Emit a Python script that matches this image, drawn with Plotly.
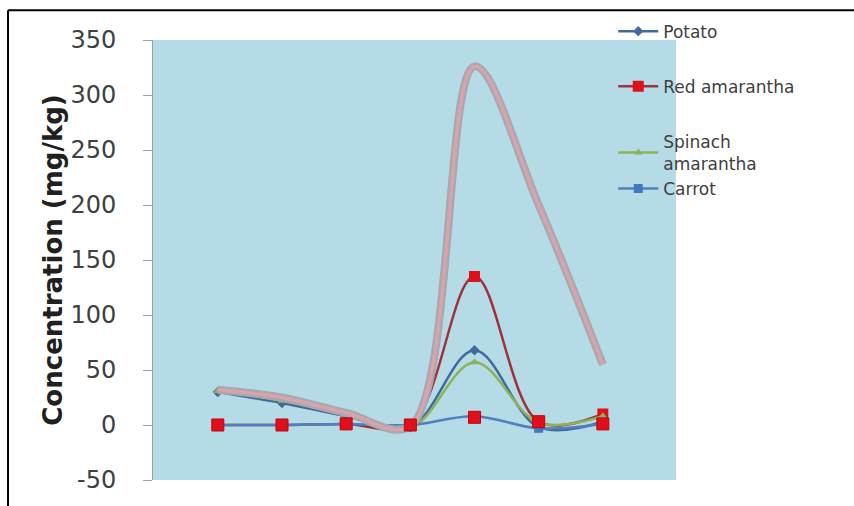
import plotly.graph_objects as go

# Sample points (unlabelled categories on the x axis)
samples = [1, 2, 3, 4, 5, 6, 7]

potato = [30, 20, 8, -2, 68, -2, 3]
red_amarantha = [0, 0, 1, 0, 135, 3, 10]
spinach_amarantha = [31, 22, 9, -3, 57, 2, 8]
carrot = [0, 0, 1, 0, 8, -3, 1]
baseline_markers = [0, 0, 1, 0, 7, 3, 1]
total = [32, 25, 11, -1, 326, 200, 55]

y_ticks = [-50, 0, 50, 100, 150, 200, 250, 300, 350]
y_tick_labels = ["-50", "0", "50", "100", "150", "200", "250", "300", "350"]

fig = go.Figure()

fig.add_trace(go.Scatter(
    x=samples, y=potato, name="Potato", mode="lines+markers",
    line=dict(color="#3F6A9E", width=2.5, shape="spline"),
    marker=dict(symbol="diamond", size=8, color="#3F6A9E"),
    legendgroup="g1", legendrank=1))
fig.add_trace(go.Scatter(
    x=samples, y=red_amarantha, name="Red amarantha", mode="lines+markers",
    line=dict(color="#A0303A", width=2.5, shape="spline"),
    marker=dict(symbol="square", size=11, color="#E0101A"),
    legendgroup="g2", legendrank=2))
fig.add_trace(go.Scatter(
    x=samples, y=spinach_amarantha, name="Spinach<br>amarantha", mode="lines+markers",
    line=dict(color="#8DB356", width=2.5, shape="spline"),
    marker=dict(symbol="triangle-up", size=8, color="#8DB356"),
    legendgroup="g3", legendrank=3))
fig.add_trace(go.Scatter(
    x=samples, y=carrot, name="Carrot", mode="lines+markers",
    line=dict(color="#4F7FBF", width=2.5, shape="spline"),
    marker=dict(symbol="square", size=9, color="#3E78C0"),
    legendgroup="g3", legendrank=4))
fig.add_trace(go.Scatter(
    x=samples, y=total, mode="lines", showlegend=False, hoverinfo="skip",
    line=dict(color="#A8A8B2", width=8, shape="spline")))
fig.add_trace(go.Scatter(
    x=samples, y=total, mode="lines", showlegend=False,
    line=dict(color="#D9A3AA", width=3.5, shape="spline")))
fig.add_trace(go.Scatter(
    x=samples, y=baseline_markers, mode="markers", showlegend=False,
    marker=dict(symbol="square", size=12, color="#E0101A",
                line=dict(color="#C00010", width=1))))

fig.update_layout(
    width=854, height=506,
    margin=dict(l=153, r=178, t=40, b=23),
    paper_bgcolor="white",
    plot_bgcolor="#B5DCE6",
    font=dict(family="DejaVu Sans", color="#404040"),
    xaxis=dict(range=[-0.01, 8.14], visible=False, showgrid=False, zeroline=False),
    yaxis=dict(
        range=[-50, 350], tickvals=y_ticks, ticktext=y_tick_labels,
        showgrid=False, zeroline=False,
        showline=True, linecolor="#A0A0A0", linewidth=1,
        ticks="outside", ticklen=9, tickcolor="#A0A0A0",
        ticklabelstandoff=22,
        tickfont=dict(family="DejaVu Sans", size=24, color="#404040"),
        title=dict(text="<b>Concentration (mg/kg)</b>", standoff=0,
                   font=dict(family="DejaVu Sans", size=26, color="#202020")),
    ),
    legend=dict(
        x=0.88, y=1.06, xanchor="left", yanchor="top",
        bgcolor="rgba(0,0,0,0)", traceorder="grouped", tracegroupgap=30,
        font=dict(family="DejaVu Sans", size=17, color="#404040"),
        itemwidth=40,
    ),
    shapes=[
        dict(type="line", xref="paper", yref="paper", x0=-0.2772, x1=1.3404,
             y0=1.0677, y1=1.0677, line=dict(color="black", width=2)),
        dict(type="line", xref="paper", yref="paper", x0=-0.2772, x1=-0.2772,
             y0=1.0677, y1=-0.06, line=dict(color="black", width=2)),
    ],
)

fig.write_html("out.html", config={"displayModeBar": False},
               post_script="document.body.style.margin='0px';")
